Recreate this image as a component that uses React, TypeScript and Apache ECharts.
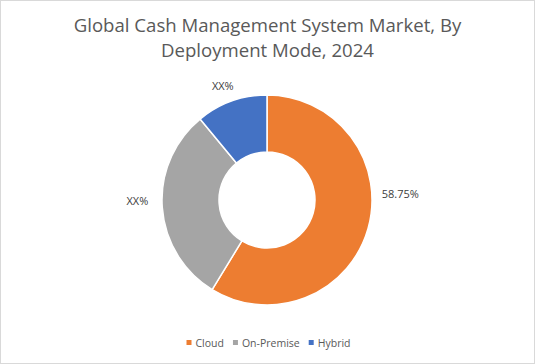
import React, { useEffect, useRef } from "react";
import * as echarts from "echarts";

const categories = ["Cloud", "On-Premise", "Hybrid"];
const values = [58.75, 30.25, 11];
const labels = ["58.75%", "XX%", "XX%"];
const colors = ["#ED7D31", "#A5A5A5", "#4472C4"];
const labelShift = [
  [-5, -37],
  [5, -7],
  [16, -8],
];

export default function App() {
  const ref = useRef<HTMLDivElement>(null);
  useEffect(() => {
    document.body.style.margin = "0";
    const chart = echarts.init(ref.current!, null, { renderer: "svg" });
    chart.setOption({
      animation: false,
      title: {
        text: "Global Cash Management System Market, By\nDeployment Mode, 2024",
        left: "center",
        top: 6,
        textStyle: {
          fontFamily: "Open Sans",
          fontSize: 18.6,
          fontWeight: "normal",
          color: "#595959",
          lineHeight: 25,
        },
      },
      legend: {
        bottom: 10,
        left: "center",
        icon: "rect",
        itemWidth: 7,
        itemHeight: 7,
        itemGap: 7,
        textStyle: { fontFamily: "Open Sans", fontSize: 10.5, color: "#595959", padding: [0, 0, 0, -2] },
        data: categories,
      },
      series: [
        {
          type: "pie",
          center: [266, 199],
          radius: [48, 105],
          startAngle: 90,
          clockwise: true,
          itemStyle: { borderColor: "#fff", borderWidth: 1.5 },
          label: {
            show: true,
            position: "outside",
            fontFamily: "Open Sans",
            fontSize: 11,
            color: "#404040",
            formatter: (p: any) => labels[p.dataIndex],
          },
          labelLine: { show: false, length: 8, length2: 6 },
          labelLayout: (p: any) => ({ dx: labelShift[p.dataIndex][0], dy: labelShift[p.dataIndex][1] }),
          emphasis: { disabled: true },
          data: categories.map((c, i) => ({
            name: c,
            value: values[i],
            itemStyle: { color: colors[i] },
          })),
        },
      ],
    });
    return () => chart.dispose();
  }, []);
  return (
    <div
      ref={ref}
      style={{ width: 535, height: 364, boxSizing: "border-box", border: "1px solid #d9d9d9" }}
    />
  );
}
